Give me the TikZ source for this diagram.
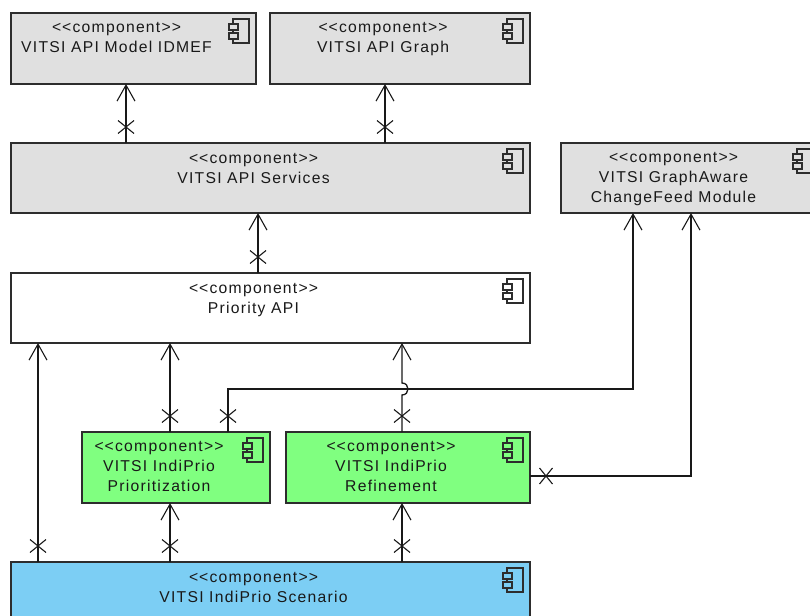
\documentclass[tikz,border=0pt]{standalone}
\usepackage{fontspec}
\newfontfamily\compfont[LetterSpace=8]{Liberation Sans}
\usepackage{tikz}
\usetikzlibrary{arrows.meta,calc,decorations.markings}

\definecolor{apigray}{RGB}{224,224,224}
\definecolor{indigreen}{RGB}{128,255,128}
\definecolor{scenblue}{RGB}{124,206,244}
\definecolor{edgegray}{RGB}{45,45,45}

\newcommand{\stereo}[1]{<\kern1pt<#1>\kern1pt>}
\newcommand{\compicon}[2]{%
  \draw[iconline] ($(#1.north east)+(-23,6)$) rectangle ($(#1.north east)+(-7,30)$);
  \draw[iconline, fill=#2] ($(#1.north east)+(-27,11)$) rectangle ($(#1.north east)+(-18,17)$);
  \draw[iconline, fill=#2] ($(#1.north east)+(-27,20)$) rectangle ($(#1.north east)+(-18,26)$);
}

\tikzset{
  comp/.style={draw=edgegray, line width=1.4pt, rectangle, inner sep=0pt, outer sep=0pt},
  ctext/.style={font=\compfont\fontsize{15.7pt}{20pt}\selectfont, align=center, inner sep=0pt, anchor=north, text=black!90},
  iconline/.style={draw=edgegray, line width=1.1pt},
  dep/.style={draw=black!90, line width=1.3pt, -{Straight Barb[length=16pt,width=18pt,line width=1.1pt]},
    postaction={decorate, decoration={markings, mark=at position 16pt with {\draw[-, line width=1.1pt] (-6.5,-8)--(6.5,8) (-6.5,8)--(6.5,-8);}}}}
}

\begin{document}
\begin{tikzpicture}[x=1pt, y=-1pt]
  \useasboundingbox (0,0) rectangle (810,615);
  \clip (0,0) rectangle (810,615);

  % API layer
  \node[comp, fill=apigray, minimum width=245pt, minimum height=71pt] (idmef) at (133.5,48.5) {};
  \node[comp, fill=apigray, minimum width=260pt, minimum height=71pt] (graph) at (400,48.5) {};
  \node[comp, fill=apigray, minimum width=519pt, minimum height=70pt] (services) at (270.5,178) {};
  \node[comp, fill=apigray, minimum width=259pt, minimum height=70pt] (cfm) at (690.5,178) {};
  \node[comp, fill=white, minimum width=519pt, minimum height=70pt] (prio) at (270.5,308) {};

  % IndiPrio modules
  \node[comp, fill=indigreen, minimum width=188pt, minimum height=71pt] (pzn) at (176,467.5) {};
  \node[comp, fill=indigreen, minimum width=244pt, minimum height=71pt] (rfn) at (408,467.5) {};
  \node[comp, fill=scenblue, minimum width=519pt, minimum height=70pt] (scen) at (270.5,597) {};

  % labels
  \node[ctext] (idmef-txt) at ($(idmef.north)+(-17,9)$) {\stereo{component}\\VITSI API Model IDMEF};
  \node[ctext] (graph-txt) at ($(graph.north)+(-17,9)$) {\stereo{component}\\VITSI API Graph};
  \node[ctext] (services-txt) at ($(services.north)+(-17,10)$) {\stereo{component}\\VITSI API Services};
  \node[ctext] (cfm-txt) at ($(cfm.north)+(-17,9)$) {\stereo{component}\\VITSI GraphAware\\ChangeFeed Module};
  \node[ctext] (prio-txt) at ($(prio.north)+(-17,10)$) {\stereo{component}\\Priority API};
  \node[ctext] (pzn-txt) at ($(pzn.north)+(-17,9)$) {\stereo{component}\\VITSI IndiPrio\\Prioritization};
  \node[ctext] (rfn-txt) at ($(rfn.north)+(-17,9)$) {\stereo{component}\\VITSI IndiPrio\\Refinement};
  \node[ctext] (scen-txt) at ($(scen.north)+(-17,10)$) {\stereo{component}\\VITSI IndiPrio Scenario};

  % component icons
  \compicon{idmef}{apigray}
  \compicon{graph}{apigray}
  \compicon{services}{apigray}
  \compicon{cfm}{apigray}
  \compicon{prio}{white}
  \compicon{pzn}{indigreen}
  \compicon{rfn}{indigreen}
  \compicon{scen}{scenblue}

  % dependencies
  \draw[dep] ($(services.north west)+(115,0)$) -- ($(idmef.south west)+(115,0)$);
  \draw[dep] ($(services.north west)+(374,0)$) -- ($(graph.south west)+(115,0)$);
  \draw[dep] ($(prio.north west)+(247,0)$) -- ($(services.south west)+(247,0)$);
  \draw[dep] ($(scen.north west)+(27,0)$) -- ($(prio.south west)+(27,0)$);
  \draw[dep] ($(scen.north west)+(159,0)$) -- ($(pzn.south west)+(88,0)$);
  \draw[dep] ($(scen.north west)+(391,0)$) -- ($(rfn.south west)+(116,0)$);
  \draw[dep] ($(pzn.north west)+(88,0)$) -- ($(prio.south west)+(159,0)$);
  % line hop over the ChangeFeed wire
  \draw[dep] ($(rfn.north west)+(116,0)$) -- ++(0,-37) .. controls +(8,0) and +(8,0) .. ++(0,-12) -- ($(prio.south west)+(391,0)$);
  \draw[dep] ($(pzn.north west)+(146,0)$) -- ++(0,-43) -| ($(cfm.south west)+(72,0)$);
  \draw[dep] ($(rfn.east)+(0,8.5)$) -| ($(cfm.south west)+(130,0)$);
\end{tikzpicture}
\end{document}
